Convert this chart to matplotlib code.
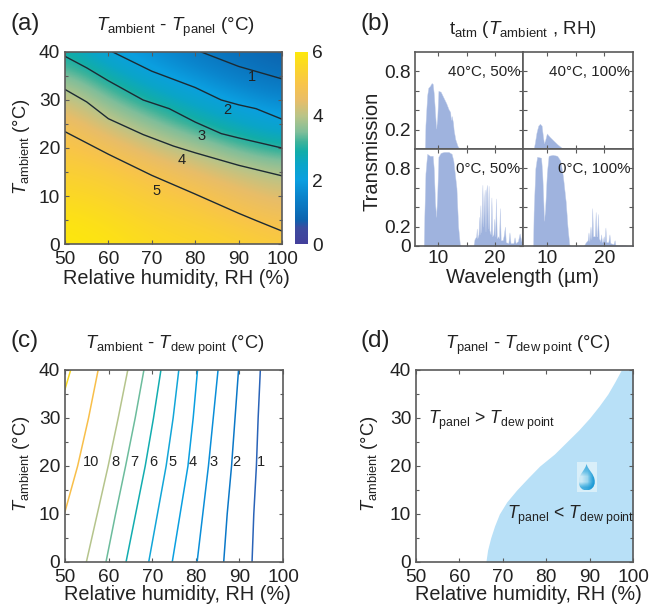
import numpy as np
import matplotlib
matplotlib.use('Agg')
import matplotlib.pyplot as plt
from matplotlib.colors import LinearSegmentedColormap
from matplotlib.path import Path
from matplotlib.patches import PathPatch, Rectangle

plt.rcParams['font.family'] = ['Liberation Sans', 'DejaVu Sans']
plt.rcParams['mathtext.fontset'] = 'custom'
plt.rcParams['mathtext.rm'] = 'Liberation Sans'
plt.rcParams['mathtext.it'] = 'Liberation Sans:italic'
plt.rcParams['mathtext.default'] = 'rm'

W, H = 654, 604
TXT = '#222222'
FRAME = '#5a5a5a'
TICK_FS = 13.8

# ---------- panel (a) ----------
rh_grid = [50, 60, 70, 80, 90, 100]
t_grid = [0, 5, 10, 15, 20, 25, 30, 35, 40]
dT_rh50 = [6.0, 5.9, 5.6, 5.35, 5.1, 4.8, 4.25, 3.6, 2.9]
dT_rh60 = [5.9, 5.7, 5.45, 5.2, 4.8, 4.15, 3.5, 2.85, 2.05]
dT_rh70 = [5.65, 5.45, 5.2, 4.92, 4.25, 3.6, 2.9, 2.15, 1.7]
dT_rh80 = [5.55, 5.3, 5.03, 4.5, 3.85, 3.05, 2.35, 1.75, 1.25]
dT_rh90 = [5.4, 5.08, 4.65, 4.13, 3.35, 2.55, 1.9, 1.3, 0.95]
dT_rh100 = [5.2, 4.8, 4.35, 3.85, 3.0, 2.15, 1.55, 1.0, 0.75]

c5_rh = [50, 60, 70, 80, 90, 94, 100]
c5_t = [23.4, 18.7, 14.3, 10.4, 6.4, 4.9, 2.7]
c4_rh = [50, 55, 60, 68, 75, 80, 90, 100]
c4_t = [32.2, 29.6, 26.1, 22.8, 20.4, 19.0, 16.4, 14.2]
c3_rh = [50, 55, 60, 68, 74, 80, 86, 90, 100]
c3_t = [39.1, 36.7, 34.0, 30.0, 28.2, 25.4, 23.0, 22.1, 20.0]
c2_rh = [61, 70, 80, 86, 90, 94, 100]
c2_t = [40.0, 36.0, 32.6, 30.0, 29.0, 28.2, 26.0]
c1_rh = [81.4, 90, 100]
c1_t = [40.0, 37.0, 34.4]
contour_labels = ['1', '2', '3', '4', '5']
label_rh = [93, 87.5, 81.5, 77, 71]
label_t = [34.8, 27.9, 22.4, 17.5, 11.1]

cb_pos = [0, .5, .75, 1, 1.5, 2, 2.5, 2.9, 3.2, 3.5, 4, 4.5, 5, 5.5, 6]
cb_col = ['#433f9b', '#3c4b9f', '#0d62ae', '#0b6fb9', '#0a84cc', '#0a9fe0',
          '#0aa5c8', '#12ada8', '#3fb39a', '#7fbe9a', '#b9c488', '#e8bd68',
          '#f8c44a', '#fbd52a', '#fde80c']

# ---------- panel (b) ----------
wl_40_50 = [7.6, 7.7, 8.0, 8.2, 8.5, 8.8, 9.0, 9.2, 9.4, 9.6, 9.8, 10.0, 10.4, 10.9, 11.4, 11.8, 12.1, 12.2, 12.35, 12.6, 12.7, 13.0, 13.4, 13.8]
tr_40_50 = [0.0, 0.25, 0.55, 0.63, 0.65, 0.68, 0.67, 0.56, 0.38, 0.21, 0.33, 0.60, 0.59, 0.53, 0.47, 0.41, 0.38, 0.30, 0.34, 0.27, 0.2, 0.1, 0.03, 0.0]
wl_40_100 = [7.7, 7.9, 8.2, 8.5, 8.8, 9.1, 9.3, 9.5, 9.7, 10.0, 10.5, 11.1, 11.8, 12.6, 13.2]
tr_40_100 = [0.0, 0.06, 0.17, 0.24, 0.26, 0.24, 0.14, 0.06, 0.09, 0.16, 0.125, 0.09, 0.05, 0.012, 0.0]
wl_0_50 = [7.4, 7.5, 7.7, 8.0, 8.5, 9.0, 9.2, 9.4, 9.6, 9.8, 10.0, 10.4, 11, 11.8, 12.35, 12.65, 13.2, 13.5, 13.8, 14.0,
           16.2, 16.4, 16.7, 16.8, 16.9, 17.1, 17.2, 17.3, 17.45, 17.55, 17.65, 17.8, 17.95, 18.05, 18.2, 18.35, 18.45, 18.6, 18.75, 18.9, 19.05,
           19.25, 19.4, 19.55, 19.75, 19.9, 20.05, 20.2, 20.35, 20.6, 20.75, 20.9, 21.05, 21.4, 21.55, 21.8, 21.95, 22.4, 22.6, 22.8, 23.3, 23.5, 23.7, 24.1, 24.4, 24.7, 25.0]
tr_0_50 = [0.0, 0.3, 0.75, 0.95, 0.93, 0.93, 0.78, 0.45, 0.30, 0.55, 0.92, 0.96, 0.97, 0.97, 0.95, 0.88, 0.6, 0.2, 0.02, 0.0,
           0.0, 0.07, 0.1, 0.18, 0.08, 0.12, 0.3, 0.12, 0.42, 0.14, 0.25, 0.63, 0.2, 0.4, 0.58, 0.15, 0.55, 0.63, 0.18, 0.62, 0.16,
           0.12, 0.5, 0.1, 0.12, 0.28, 0.1, 0.49, 0.08, 0.1, 0.08, 0.39, 0.06, 0.06, 0.1, 0.2, 0.04, 0.03, 0.14, 0.03, 0.03, 0.09, 0.03, 0.05, 0.13, 0.05, 0.09]
wl_0_100 = [7.6, 7.7, 8.0, 8.3, 9.0, 9.2, 9.4, 9.5, 9.7, 10.0, 10.3, 11, 11.8, 12.35, 12.8, 13.3, 13.6, 13.9, 14.1,
            16.4, 16.8, 17.1, 17.25, 17.4, 17.6, 17.75, 17.9, 18.05, 18.35, 18.5, 18.65, 18.75, 18.9, 19.05, 19.3, 19.45, 19.6, 19.75, 19.9, 20.05, 20.2, 20.35, 20.7, 20.9, 21.05, 21.6, 21.8, 21.95, 22.4, 23.0, 25.0]
tr_0_100 = [0.0, 0.35, 0.8, 0.92, 0.91, 0.75, 0.45, 0.26, 0.38, 0.75, 0.93, 0.94, 0.93, 0.88, 0.72, 0.45, 0.2, 0.02, 0.0,
            0.0, 0.04, 0.06, 0.14, 0.05, 0.2, 0.07, 0.39, 0.1, 0.1, 0.35, 0.1, 0.1, 0.33, 0.08, 0.05, 0.12, 0.04, 0.05, 0.1, 0.04, 0.19, 0.04, 0.04, 0.12, 0.03, 0.02, 0.06, 0.01, 0.01, 0.01, 0.0]
tr_labels = ['40°C, 50%', '40°C, 100%', '0°C, 50%', '0°C, 100%']

# ---------- panel (c) ----------
dew_t = [0, 10, 20, 30, 40]
dew_levels = ['1', '2', '3', '4', '5', '6', '7', '8', '10']
dew_1 = [92.9, 93.3, 93.9, 94.3, 94.8]
dew_2 = [86.4, 87.2, 88.2, 89.0, 89.8]
dew_3 = [80.3, 81.6, 82.9, 84.0, 85.1]
dew_4 = [74.6, 76.4, 78.2, 79.4, 80.4]
dew_5 = [69.2, 71.2, 73.2, 74.8, 76.1]
dew_6 = [64.0, 66.2, 68.4, 70.3, 72.0]
dew_7 = [59.4, 61.6, 63.9, 66.1, 68.1]
dew_8 = [54.9, 57.4, 59.9, 62.2, 64.4]
dew_10_t = [10.5, 20, 30, 40]
dew_10_rh = [50.0, 52.9, 55.4, 57.6]
dew_12_t = [36, 40]
dew_12_rh = [50.0, 51.3]
dew_colors = ['#2a63b8', '#0b78c8', '#0a8ed8', '#0a9fe0', '#12a6d8', '#12adb0',
              '#6cbc9c', '#b5c48c', '#f8bf4a']
dew_12_color = '#f8d820'
dew_label_rh = [94.9, 89.3, 84.0, 79.2, 74.6, 70.2, 65.8, 61.5, 55.9]
dew_label_t = 20.9

# ---------- panel (d) ----------
bound_t = [0, 2.5, 5, 7.5, 10, 12.5, 15, 17.5, 20, 22.5, 25, 27.5, 30, 32.5, 35, 37.5, 40]
bound_rh = [66.1, 66.5, 67.2, 68.1, 69.2, 70.9, 73.2, 75.8, 78.5, 81.9, 84.7, 87.5, 90.0, 92.2, 94.2, 95.8, 97.3]


def px_axes(l, t, r, b):
    return fig.add_axes([l / W, 1 - b / H, (r - l) / W, (b - t) / H])


def ftext(x, y, s, **kw):
    kw.setdefault('color', TXT)
    kw.setdefault('ha', 'center')
    kw.setdefault('va', 'center')
    fig.text(x / W, 1 - y / H, s, **kw)


def frame(ax):
    for s in ax.spines.values():
        s.set_color(FRAME)
        s.set_linewidth(1.2)
    ax.tick_params(which='both', direction='in', top=True, right=True, color=FRAME,
                   width=0.8, labelcolor=TXT, labelsize=TICK_FS)
    ax.tick_params(which='major', length=3)
    ax.tick_params(which='minor', length=2)


def rh_axes(ax):
    ax.set_xlim(50, 100)
    ax.set_ylim(0, 40)
    ax.set_xticks([50, 60, 70, 80, 90, 100])
    ax.set_yticks([0, 10, 20, 30, 40])
    ax.set_yticks([5, 15, 25, 35], minor=True)
    frame(ax)
    ax.tick_params(axis='x', pad=5)
    ax.tick_params(axis='y', pad=3.5)


TA = r'$\mathit{T}_{\mathrm{ambient}}$'
TP = r'$\mathit{T}_{\mathrm{panel}}$'
TD = r'$\mathit{T}_{\mathrm{dew\ point}}$'
YL = TA + ' (°C)'
XL = 'Relative humidity, RH (%)'

fig = plt.figure(figsize=(W / 100, H / 100), dpi=100)

# (a)
cmap = LinearSegmentedColormap.from_list('pv', [(p / 6, c) for p, c in zip(cb_pos, cb_col)], N=512)
Z = np.array([dT_rh50, dT_rh60, dT_rh70, dT_rh80, dT_rh90, dT_rh100]).T
axa = px_axes(65, 52, 282, 244)
im = axa.imshow(Z, origin='lower', aspect='auto', cmap=cmap, vmin=0, vmax=6,
                extent=(rh_grid[0] - 5, rh_grid[-1] + 5, t_grid[0] - 2.5, t_grid[-1] + 2.5),
                interpolation='bicubic', interpolation_stage='data')
for xs, ys in [(c1_rh, c1_t), (c2_rh, c2_t), (c3_rh, c3_t), (c4_rh, c4_t), (c5_rh, c5_t)]:
    axa.plot(xs, ys, color='#1c2a33', lw=1.0)
for s, x, y in zip(contour_labels, label_rh, label_t):
    axa.text(x, y, s, ha='center', va='center', fontsize=10.5, color=TXT)
rh_axes(axa)
cax = px_axes(295, 52, 308, 244)
cb = fig.colorbar(im, cax=cax)
cb.set_ticks([0, 2, 4, 6])
cb.outline.set_visible(False)
cb.ax.tick_params(length=0, labelsize=TICK_FS, labelcolor=TXT, pad=3)
ftext(175, 27, TA + ' - ' + TP + ' (°C)', fontsize=13.5)
ftext(22, 147, YL, rotation=90, fontsize=13.2)
ftext(176, 279, XL, fontsize=14.3)
ftext(25, 24, '(a)', fontsize=17.5)

# (b)
sets = [(wl_40_50, tr_40_50), (wl_40_100, tr_40_100), (wl_0_50, tr_0_50), (wl_0_100, tr_0_100)]
rects = [(415, 52, 523, 149), (523, 52, 633, 149), (415, 149, 523, 246), (523, 149, 633, 246)]
for i, ((wl, tr), rc, lab) in enumerate(zip(sets, rects, tr_labels)):
    ax = px_axes(*rc)
    ax.fill_between(wl, 0, tr, color='#9fb3de', lw=0.3, ec='#c3cfea')
    ax.set_xlim(5.85, 25)
    ax.set_ylim(0, 1)
    ax.set_xticks([10, 15, 20])
    ax.set_yticks([0.2, 0.4, 0.6, 0.8])
    frame(ax)
    ax.set_xticklabels([])
    ax.set_yticklabels([])
    if i >= 2:
        ax.set_xticklabels(['10', '', '20'])
        ax.tick_params(axis='x', pad=3)
    if i % 2 == 0:
        ax.set_yticklabels(['0.2', '', '', '0.8'])
        ax.tick_params(axis='y', pad=3)
    if i == 2:
        ax.set_yticks([0, 0.2, 0.4, 0.6, 0.8])
        ax.set_yticklabels(['0', '0.2', '', '', '0.8'])
    ax.text(0.975, 0.79, lab, transform=ax.transAxes, ha='right', va='center', fontsize=10.9, color=TXT)
ftext(523, 29, r'$\mathrm{t}_{\mathrm{atm}}$ (' + TA + ' , RH)', fontsize=13.5)
ftext(372, 151, 'Transmission', rotation=90, fontsize=14.5)
ftext(523, 277, 'Wavelength (µm)', fontsize=14.5)
ftext(375, 24, '(b)', fontsize=17.5)

# (c)
axc = px_axes(65, 370, 283, 562)
series = [dew_1, dew_2, dew_3, dew_4, dew_5, dew_6, dew_7, dew_8]
for vals, col in zip(series, dew_colors):
    axc.plot(vals, dew_t, color=col, lw=1.1)
axc.plot(dew_10_rh, dew_10_t, color=dew_colors[8], lw=1.1)
axc.plot(dew_12_rh, dew_12_t, color=dew_12_color, lw=1.1)
for s, x in zip(dew_levels, dew_label_rh):
    axc.text(x, dew_label_t, s, ha='center', va='center', fontsize=10.5, color=TXT)
rh_axes(axc)
ftext(175, 345, TA + ' - ' + TD + ' (°C)', fontsize=13.2)
ftext(22, 464, YL, rotation=90, fontsize=13.2)
ftext(177, 594, XL, fontsize=14.3)
ftext(25, 341, '(c)', fontsize=17.5)

# (d)
axd = px_axes(416, 370, 633, 562)
axd.fill_betweenx(bound_t, bound_rh, 100, color='#b8e0f7', lw=0)
rh_axes(axd)
axd.text(52.8, 29.5, TP + ' > ' + TD, ha='left', va='center', fontsize=12.7, color=TXT)
axd.text(71.0, 9.7, TP + ' < ' + TD, ha='left', va='center', fontsize=12.7, color=TXT)
# droplet icon
axd.add_patch(Rectangle((87.1, 14.6), 4.6, 6.2, fc='#d9eff9', ec='none'))
drop = Path([(89.3, 20.5), (89.1, 19.2), (87.5, 18.4), (87.5, 16.7), (87.5, 15.6), (88.3, 14.9), (89.3, 14.9),
             (90.3, 14.9), (91.2, 15.6), (91.2, 16.7), (91.2, 18.4), (89.5, 19.2), (89.3, 20.5)],
            [Path.MOVETO] + [Path.CURVE4] * 12)
patch = PathPatch(drop, fc='none', ec='none')
axd.add_patch(patch)
grad = axd.imshow([[0.7, 0.7, 0.7], [0.5, 0.6, 0.9], [0.1, 0.3, 0.9], [0.1, 0.3, 0.9], [0.7, 0.8, 1.0]], origin='upper',
                  aspect='auto', extent=(87.5, 91.2, 14.9, 20.5), interpolation='bilinear',
                  cmap=LinearSegmentedColormap.from_list('drop', ['#e2f3fa', '#6fc3e8', '#1596d4']), vmin=0, vmax=1, zorder=3)
grad.set_clip_path(patch)
axd.set_xlim(50, 100)
axd.set_ylim(0, 40)
ftext(528, 345, TP + ' - ' + TD + ' (°C)', fontsize=13.2)
ftext(370, 464, YL, rotation=90, fontsize=13.2)
ftext(528, 594, XL, fontsize=14.3)
ftext(375, 341, '(d)', fontsize=17.5)

fig.savefig('out.png', dpi=100)
